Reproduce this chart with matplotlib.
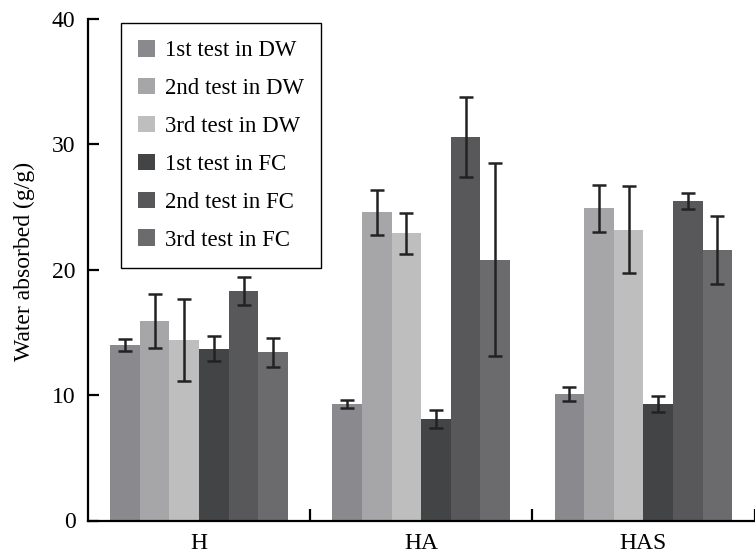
import matplotlib
matplotlib.use("Agg")
import matplotlib.pyplot as plt
import numpy as np

plt.rcParams['font.family'] = ['Liberation Serif', 'DejaVu Serif']

groups = ["H", "HA", "HAS"]
series = ["1st test in DW", "2nd test in DW", "3rd test in DW",
          "1st test in FC", "2nd test in FC", "3rd test in FC"]
values = [
    [14.0, 9.3, 10.1],
    [15.9, 24.6, 24.9],
    [14.4, 22.9, 23.2],
    [13.7, 8.1, 9.3],
    [18.3, 30.6, 25.5],
    [13.4, 20.8, 21.6],
]
errors = [
    [0.45, 0.35, 0.57],
    [2.15, 1.8, 1.87],
    [3.3, 1.65, 3.45],
    [1.0, 0.75, 0.65],
    [1.15, 3.2, 0.64],
    [1.15, 7.7, 2.7],
]
colors = ["#8a8a8e", "#a6a6a9", "#bdbebd", "#434446", "#58585b", "#6b6b6e"]
yticks = [0, 10, 20, 30, 40]

fig = plt.figure(figsize=(7.55, 5.58), dpi=100)
ax = fig.add_axes([88/755, 37.5/558, (754.5-88)/755, 501.5/558])

n = len(series)
bw = 0.8 / n
centers = np.arange(len(groups)) + 0.5
for i in range(n):
    x = centers - 0.4 + bw * (i + 0.5)
    ax.bar(x, values[i], width=bw, color=colors[i], label=series[i],
           yerr=errors[i], ecolor="#222222",
           error_kw=dict(elinewidth=1.8, capsize=5, capthick=1.8))

fs = 17
ax.set_xlim(0, 3)
ax.set_ylim(0, 40)
ax.set_yticks(yticks)
ax.set_xticks(centers)
ax.set_xticklabels(groups)
ax.set_xticks([1, 2, 3], minor=True)
ax.tick_params(axis='x', which='major', length=0, pad=9, labelsize=fs)
ax.tick_params(axis='x', which='minor', direction='in', length=9, width=1.6)
ax.tick_params(axis='y', direction='in', length=8, width=1.6, pad=9, labelsize=fs)

for s in ['top', 'right']:
    ax.spines[s].set_visible(False)
for s in ['left', 'bottom']:
    ax.spines[s].set_linewidth(1.6)
ax.spines['left'].set_bounds(0, 40)

ax.set_ylabel("Water absorbed (g/g)", fontsize=fs)
ax.yaxis.set_label_coords(-0.08, 0.517)

leg = ax.legend(loc='upper left', bbox_to_anchor=(0.0495, 0.992), fontsize=16.4,
                frameon=True, fancybox=False, edgecolor='black', framealpha=1,
                handlelength=0.75, handleheight=0.75, handletextpad=0.45,
                labelspacing=0.73, borderpad=0.74, borderaxespad=0)
leg.get_frame().set_linewidth(1.0)

fig.savefig("out.png", dpi=100)
